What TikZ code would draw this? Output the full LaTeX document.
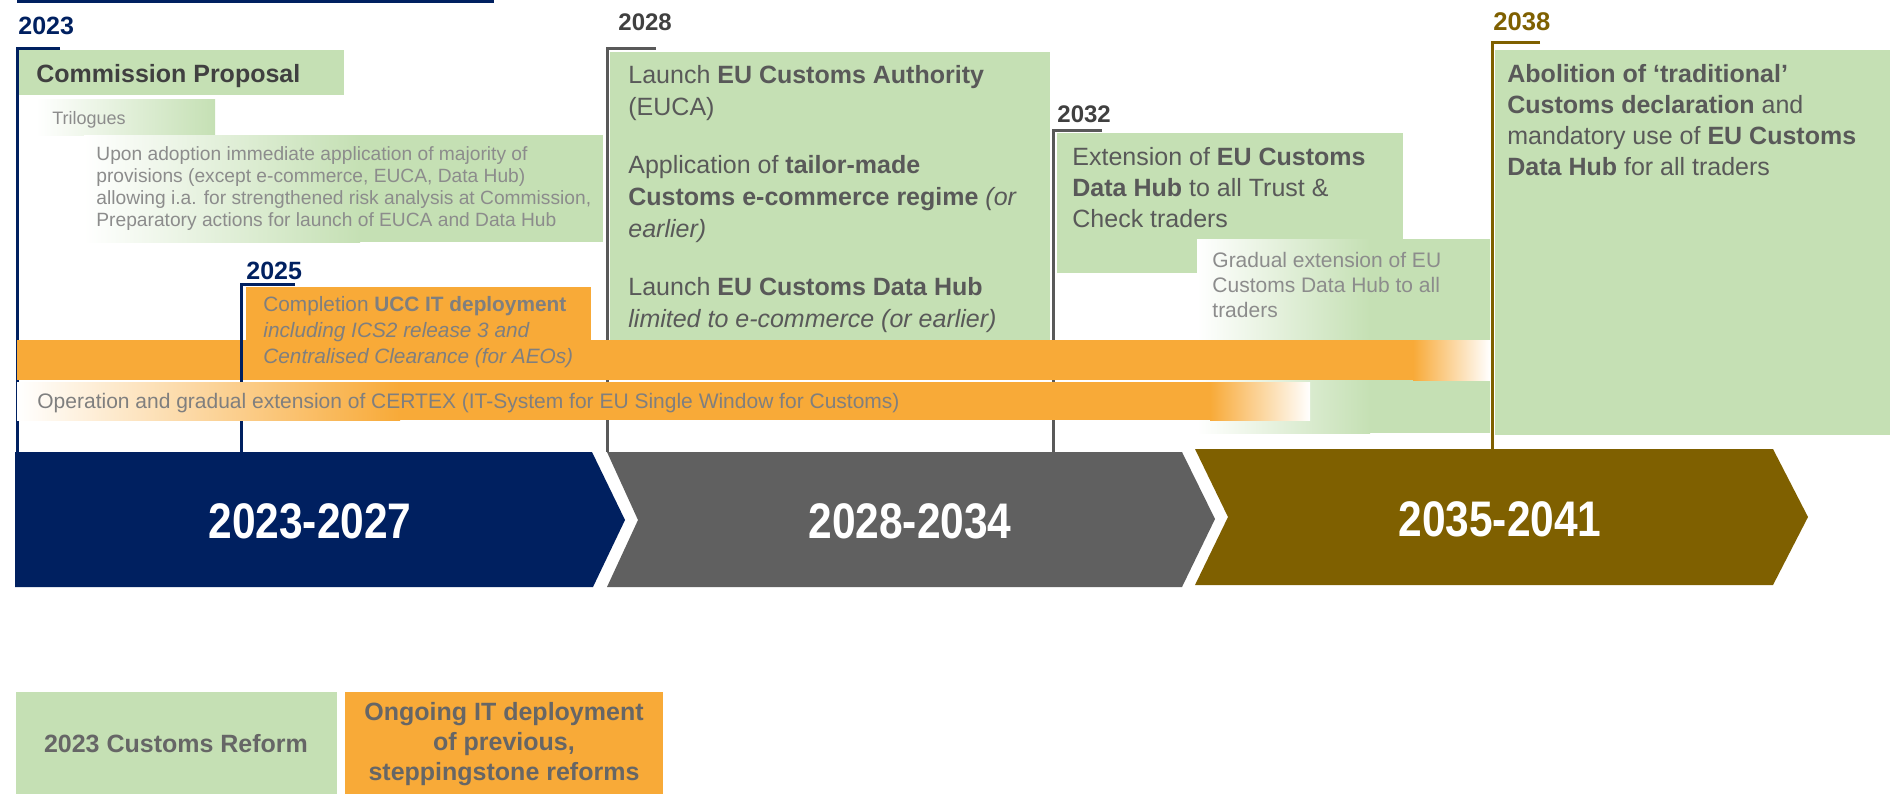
\documentclass[tikz,border=0pt]{standalone}
\usepackage{fontspec}
\setmainfont{Liberation Sans}
\newfontfamily\narrowfont{Liberation Sans}[FakeStretch=0.85]
\usetikzlibrary{positioning}
\definecolor{eunavy}{HTML}{002060}
\definecolor{chevgray}{HTML}{606060}
\definecolor{eugold}{HTML}{7F6000}
\definecolor{reformgreen}{HTML}{C5E0B4}
\definecolor{itorange}{HTML}{F8AA38}
\definecolor{boxtext}{HTML}{595959}
\definecolor{darktext}{HTML}{404040}
\definecolor{softtext}{HTML}{8C8C8C}
\definecolor{bartext}{HTML}{7F7F7F}
\definecolor{legendtext}{HTML}{666666}
\tikzset{
    reform/.style = {
        fill = reformgreen,
        },
    deploy/.style = {
        fill = itorange,
        },
    marker/.style = {
        line width = 1.5pt,
        },
    year/.style = {
        font = \bfseries\fontsize{12.5}{14}\selectfont,
        anchor = base west,
        inner sep = 0pt,
        },
    box text/.style = {
        font = \fontsize{12.5}{15.5}\selectfont,
        text = boxtext,
        align = left,
        anchor = north west,
        inner sep = 0pt,
        },
    note text/.style = {
        text = softtext,
        align = left,
        inner sep = 0pt,
        },
    phase/.style = {
        font = \narrowfont\bfseries\fontsize{25}{30}\selectfont,
        text = white,
        },
    legend/.style = {
        font = \bfseries\fontsize{12.5}{15}\selectfont,
        text = legendtext,
        align = center,
        }
}

\begin{document}
\begin{tikzpicture}[x=0.5pt, y=-0.5pt]
    \useasboundingbox (0,0) rectangle (1890,794);
    \fill[eunavy] (17,0) rectangle (494,3);

    % reform boxes
    \fill[reform] (17,50) rectangle (344,95);
    \shade[left color=white, right color=reformgreen] (36,99) rectangle (215,135);
    \shade[left color=white, right color=reformgreen] (84,135) rectangle (360,242);
    \fill[reform] (360,135) rectangle (603,242);
    \fill[reform] (610,52) rectangle (1050,340);
    \fill[reform] (1057,133) rectangle (1403,273);
    \shade[left color=white, right color=reformgreen] (1197,239) rectangle (1370,433);
    \fill[reform] (1370,239) rectangle (1490,433);
    \fill[reform] (1495,50) rectangle (1890,435);

    % year markers
    \draw[marker, eunavy] (60,48) -- (17,48) -- (17,452);
    \draw[marker, boxtext] (656,48) -- (607,48) -- (607,452);
    \draw[marker, boxtext] (1102,130) -- (1053,130) -- (1053,452);
    \draw[marker, eugold] (1540,42) -- (1492,42) -- (1492,452);

    % IT deployment bars
    \fill[deploy] (246,287) rectangle (591,340);
    \fill[deploy] (17,340) rectangle (1413,380);
    \shade[left color=itorange, right color=white] (1413,340) rectangle (1490,380);
    \draw[marker, eunavy] (295,284) -- (241,284) -- (241,452);
    \shade[left color=white, right color=itorange] (17,382) rectangle (400,420);
    \fill[deploy] (400,382) rectangle (1210,420);
    \shade[left color=itorange, right color=white] (1210,382) rectangle (1310,420);

    % phases
    \fill[eunavy] (15,452) -- (592,452) -- (625,520) -- (593,587) -- (15,587) -- cycle;
    \fill[chevgray] (607,452) -- (1182,452) -- (1215,519) -- (1182,587) -- (607,587) -- (638,520) -- cycle;
    \fill[eugold] (1195,449) -- (1773,449) -- (1808,517) -- (1773,585) -- (1195,585) -- (1228,517) -- cycle;
    \node[phase] (p2023) at (310,521) {2023-2027};
    \node[phase] (p2028) at (910,521) {2028-2034};
    \node[phase] (p2035) at (1500,519) {2035-2041};

    % 2023
    \node[year, text=eunavy] (y2023) at (18,34) {2023};
    \node[anchor=base west, inner sep=0pt, text=darktext, font=\bfseries\fontsize{12.5}{15}\selectfont] (proposal) at (36,82) {Commission Proposal};
    \node[note text, anchor=base west, font=\fontsize{9}{10}\selectfont] (trilogues) at (52,124) {Trilogues};
    \node[note text, anchor=north west, font=\fontsize{9.6}{11}\selectfont] (adoption) at (96,146) {Upon adoption immediate application of majority of\\provisions (except e-commerce, EUCA, Data Hub)\\allowing i.a. for strengthened risk analysis at Commission,\\Preparatory actions for launch of EUCA and Data Hub};

    % 2025
    \node[year, text=eunavy] (y2025) at (246,279) {2025};
    \node[note text, anchor=north west, text=bartext, font=\fontsize{10.4}{13}\selectfont] (ucc) at (263,296) {Completion \textbf{UCC IT deployment}\\\textit{including ICS2 release 3 and}\\\textit{Centralised Clearance (for AEOs)}};
    \node[note text, anchor=base west, text=bartext, font=\fontsize{10.5}{12}\selectfont] (certex) at (37,408) {Operation and gradual extension of CERTEX (IT-System for EU Single Window for Customs)};

    % 2028
    \node[year, text=darktext, font=\bfseries\fontsize{12}{14}\selectfont] (y2028) at (618,30) {2028};
    \node[box text, font=\fontsize{12.5}{16}\selectfont] (euca) at (628,65) {Launch \textbf{EU Customs Authority}\\(EUCA)\\[13pt]Application of \textbf{tailor-made}\\\textbf{Customs e-commerce regime} \textit{(or}\\\textit{earlier)}\\[13pt]Launch \textbf{EU Customs Data Hub}\\\textit{limited to e-commerce (or earlier)}};

    % 2032
    \node[year, text=darktext, font=\bfseries\fontsize{12}{14}\selectfont] (y2032) at (1057,122) {2032};
    \node[box text] (hub) at (1072,147) {Extension of \textbf{EU Customs}\\\textbf{Data Hub} to all Trust \&\\Check traders};
    \node[note text, anchor=north west, font=\fontsize{10.5}{12.5}\selectfont] (gradual) at (1212,252) {Gradual extension of EU\\Customs Data Hub to all\\traders};

    % 2038
    \node[year, text=eugold, font=\bfseries\fontsize{12.8}{14}\selectfont] (y2038) at (1493,30) {2038};
    \node[box text] (abolition) at (1507,64) {\textbf{Abolition of ‘traditional’}\\\textbf{Customs declaration} and\\mandatory use of \textbf{EU Customs}\\\textbf{Data Hub} for all traders};

    % legend
    \fill[reform] (16,692) rectangle (337,794);
    \fill[deploy] (345,692) rectangle (663,794);
    \node[legend] (lreform) at (176,744) {2023 Customs Reform};
    \node[legend] (ldeploy) at (504,744) {Ongoing IT deployment\\of previous,\\steppingstone reforms};
\end{tikzpicture}
\end{document}
